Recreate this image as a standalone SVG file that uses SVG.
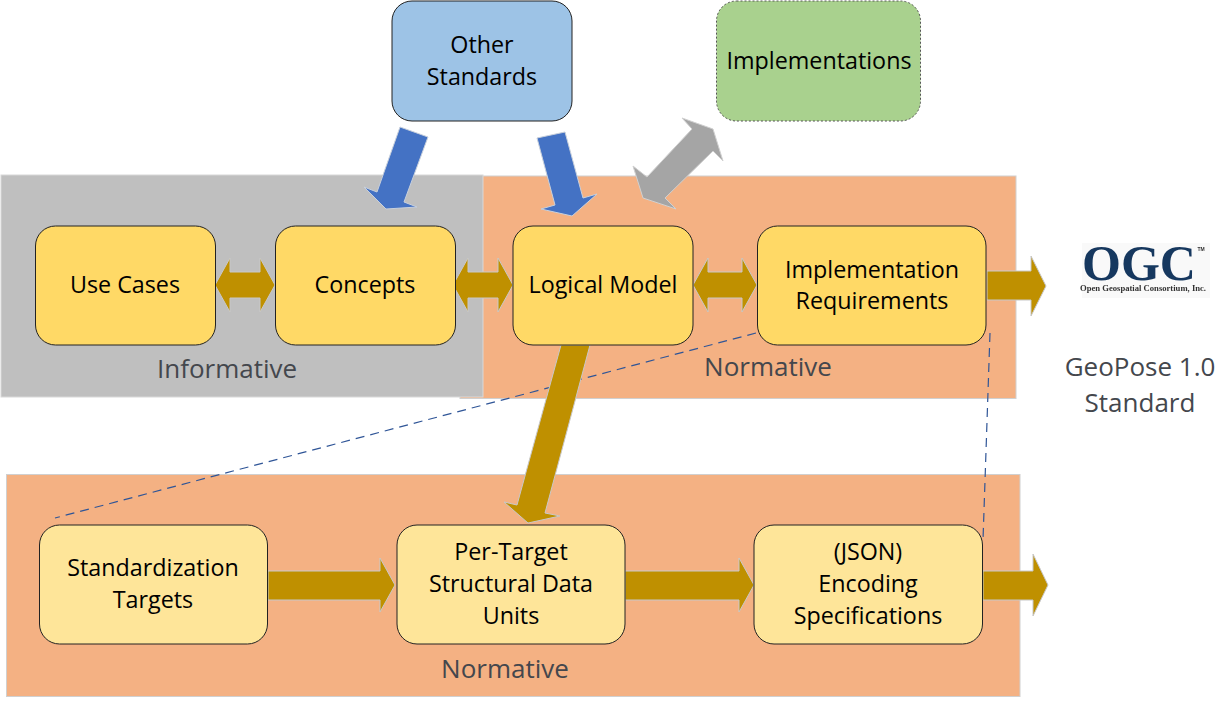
<svg xmlns="http://www.w3.org/2000/svg" width="1232" height="702" viewBox="0 0 1232 702">
<style>
.t{font-family:"Open Sans","Noto Sans",sans-serif;font-size:23.300px;fill:#000;text-anchor:middle}
.l{font-family:"Open Sans","Noto Sans",sans-serif;font-size:26px;fill:#44474d;text-anchor:middle}
.n{stroke:#222;stroke-width:1}
.y1{fill:#ffd966}.y2{fill:#fee599}
.g{fill:#bf9000;stroke:#c8c8c8;stroke-width:1}
.b{fill:#4472c4;stroke:#c8d0dc;stroke-width:1}
.d{fill:none;stroke:#2f5597;stroke-width:1.200;stroke-dasharray:9 6}
</style>
<defs><filter id="soft" x="-5%" y="-5%" width="110%" height="110%"><feGaussianBlur stdDeviation="0.400"/></filter></defs>
<rect width="1232" height="702" fill="#fff"/>
<g id="regions">
<rect x="460" y="176" width="556" height="222.500" fill="#f4b183" stroke="#d0d0d0"/>
<rect x="1" y="175" width="482" height="222" fill="#bfbfbf" stroke="#d8d8d8"/>
<rect x="6.500" y="474.500" width="1013.500" height="222" fill="#f4b183" stroke="#d0d0d0"/>
</g>
<g id="connectors">
<path class="d" d="M756 333L55 518"/>
<path class="d" d="M990 333L983 540"/>
<path class="b" d="M400 127L428 137L404 202L417 207L386 209L364 187L377 192Z"/>
<path class="b" d="M537 138L565 132L583 198L597 194L572 216L541 209L555 205Z"/>
<path d="M692 129L682 118L713 129L723 161L713 151L665 198L676 209L643 198L633 166L647 177Z" fill="#a5a5a5" stroke="#d0d0d0"/>
<path class="g" d="M215 285L230 258V272H260V258L275 285L260 312V298H230V312Z"/>
<path class="g" d="M453 285L468 258V272H498V258L513 285L498 312V298H468V312Z"/>
<path class="g" d="M693 285L708 258V272H742V258L757 285L742 312V298H708V312Z"/>
<path class="g" d="M987 271H1031V256L1046 286L1031 316V300H987Z"/>
<path class="g" d="M561 345H590L545 513L560 516L528 523L504 502L517 505Z"/>
<path class="g" d="M268 571H380V558L395 585L380 612V600H268Z"/>
<path class="g" d="M625 571H739V558L754 585L739 612V600H625Z"/>
<path class="g" d="M983 571H1033V554L1048 585L1033 616V600H983Z"/>
</g>
<g id="other-standards"><rect class="n" x="392" y="1" width="180" height="120" rx="20" fill="#9dc3e6"/><text class="t" x="482" y="53">Other</text><text class="t" x="482" y="85">Standards</text></g>
<g id="implementations"><rect x="716.500" y="1" width="204" height="120" rx="20" fill="#a9d18e" stroke="#555" stroke-dasharray="2 2"/><text class="t" x="819" y="69">Implementations</text></g>
<g id="use-cases"><rect class="n y1" x="35.500" y="226" width="180" height="119" rx="20"/><text class="t" x="125" y="293">Use Cases</text></g>
<g id="concepts"><rect class="n y1" x="275.500" y="226" width="180" height="119" rx="20"/><text class="t" x="365" y="293">Concepts</text></g>
<g id="logical-model"><rect class="n y1" x="513" y="226" width="180" height="119" rx="20"/><text class="t" x="603" y="293">Logical Model</text></g>
<g id="implementation-requirements"><rect class="n y1" x="757.500" y="226" width="228.500" height="119" rx="20"/><text class="t" x="872" y="278">Implementation</text><text class="t" x="872" y="309">Requirements</text></g>
<g id="standardization-targets"><rect class="n y2" x="39.500" y="525" width="228" height="119" rx="20"/><text class="t" x="153" y="576">Standardization</text><text class="t" x="153" y="608">Targets</text></g>
<g id="structural-data-units"><rect class="n y2" x="397" y="525" width="228" height="119" rx="20"/><text class="t" x="511" y="560">Per-Target</text><text class="t" x="511" y="592">Structural Data</text><text class="t" x="511" y="624">Units</text></g>
<g id="encoding-specifications"><rect class="n y2" x="754" y="525" width="228.500" height="119" rx="20"/><text class="t" x="868" y="560">(JSON)</text><text class="t" x="868" y="592">Encoding</text><text class="t" x="868" y="624">Specifications</text></g>
<g id="labels">
<text class="l" x="227" y="378">Informative</text>
<text class="l" x="768" y="376">Normative</text>
<text class="l" x="505" y="678">Normative</text>
<text class="l" x="1140" y="376">GeoPose 1.0</text>
<text class="l" x="1140" y="412">Standard</text>
</g>
<g id="ogc-logo">
<rect x="1082" y="243" width="128" height="55" fill="#f9f9f9"/>
<g filter="url(#soft)">
<text x="1139" y="280" text-anchor="middle" font-family="Liberation Serif,serif" font-weight="bold" font-size="50" textLength="114" lengthAdjust="spacingAndGlyphs" fill="#17375e">OGC</text>
<text x="1201" y="251" text-anchor="middle" font-family="Liberation Sans,sans-serif" font-weight="bold" font-size="5" fill="#333">TM</text>
<text x="1143" y="291" text-anchor="middle" font-family="Liberation Serif,serif" font-weight="bold" font-size="7.500" textLength="126" lengthAdjust="spacingAndGlyphs" fill="#333">Open Geospatial Consortium, Inc.</text>
</g>
</g>
</svg>
